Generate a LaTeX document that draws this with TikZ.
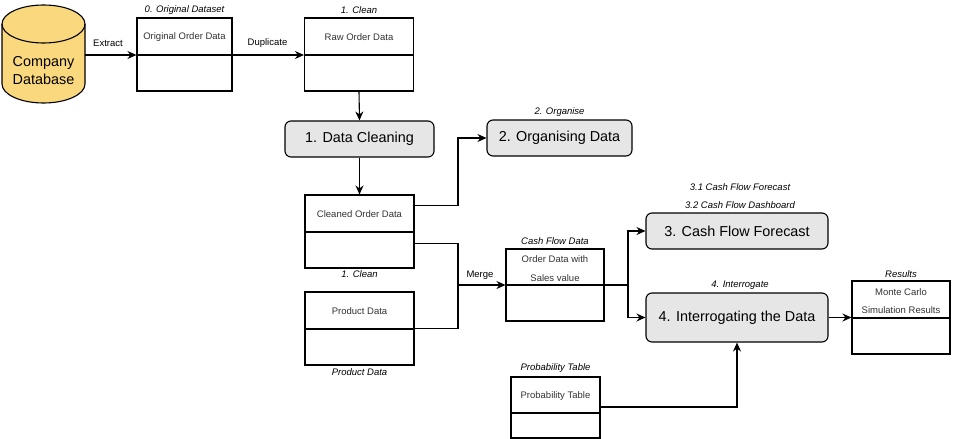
\documentclass[tikz,border=0pt]{standalone}
\usepackage{fontspec}
\setmainfont{Liberation Sans}
\usetikzlibrary{arrows.meta,calc}
\definecolor{dbfill}{HTML}{FAD87E}
\definecolor{procfill}{HTML}{E6E6E6}
\definecolor{txtgray}{HTML}{333333}
\tikzset{
  tbl/.style={draw=black,line width=1.1pt,fill=white,inner sep=0pt},
  proc/.style={draw=black,line width=1.1pt,fill=procfill,rounded corners=6pt,inner sep=0pt,font=\fontsize{14.4}{16}\selectfont},
  small/.style={font=\fontsize{9.5}{11}\selectfont,text=txtgray,inner sep=0pt},
  ital/.style={font=\fontsize{9.5}{11}\selectfont\itshape,inner sep=0pt},
  conn/.style={line width=1.1pt,-{Stealth[length=9pt,width=8pt]}},
  line/.style={line width=1.1pt},
}
\begin{document}
\begin{tikzpicture}[x=1pt,y=-1pt]
\useasboundingbox (0,0) rectangle (975,439);
% cylinder
\draw[line width=1.1pt,fill=dbfill] (2,24) -- (2,84) arc[start angle=180,end angle=0,x radius=41.5,y radius=19] -- (85,24) arc[start angle=0,end angle=-180,x radius=41.5,y radius=19] -- cycle;
\draw[line width=1.1pt] (2,24) arc[start angle=180,end angle=0,x radius=41.5,y radius=19];
\node[align=center,font=\fontsize{14.4}{18}\selectfont,inner sep=0pt] (db) at (43.5,71) {Company\\Database};
\coordinate (dbr) at (85,55);
% table boxes
\node[tbl,minimum width=95pt,minimum height=73pt] (orig) at (184.5,54.5) {};
\draw[line] (137,55) -- (232,55);
\node[small] (origt) at (184.5,37) {Original Order Data};
\node[ital] (origh) at (184.5,10.5) {0. Original Dataset};

\node[tbl,minimum width=109pt,minimum height=73pt] (raw) at (359,54.5) {};
\draw[line] (304.5,55) -- (413.5,55);
\node[small] (rawt) at (359,37) {Raw Order Data};
\node[ital] (rawh) at (359,10.5) {1. Clean};

\node[tbl,minimum width=109pt,minimum height=73pt] (cln) at (359.5,231.5) {};
\draw[line] (305,232) -- (414,232);
\node[small] (clnt) at (359.5,214) {Cleaned Order Data};
\node[ital] (clnh) at (359.5,274.5) {1. Clean};

\node[tbl,minimum width=109pt,minimum height=73pt] (prod) at (359.5,328.5) {};
\draw[line] (305,329) -- (414,329);
\node[small] (prodt) at (359.5,311) {Product Data};
\node[ital] (prodh) at (359.5,372) {Product Data};

\node[tbl,minimum width=98pt,minimum height=72pt] (cash) at (555,285) {};
\draw[line] (506,285) -- (604,285);
\node[small] (casht1) at (555,259) {Order Data with};
\node[small] (casht2) at (555,278) {Sales value};
\node[ital] (cashh) at (555,241) {Cash Flow Data};

\node[tbl,minimum width=89pt,minimum height=61pt] (prob) at (555.5,407.5) {};
\draw[line] (511,413) -- (600,413);
\node[small] (probt) at (555.5,396.5) {Probability Table};
\node[ital] (probh) at (555.5,368) {Probability Table};

\node[tbl,minimum width=98pt,minimum height=73pt] (res) at (901,317.5) {};
\draw[line] (852,318) -- (950,318);
\node[small] (rest1) at (901,292.5) {Monte Carlo};
\node[small] (rest2) at (901,310) {Simulation Results};
\node[ital] (resh) at (901,274) {Results};

% process boxes
\node[proc,minimum width=149pt,minimum height=36pt] (dc) at (359.5,139) {1. Data Cleaning};
\node[proc,minimum width=145pt,minimum height=36pt] (org) at (559.5,138) {2. Organising Data};
\node[ital] (orgh) at (559.5,112) {2. Organise};
\node[proc,minimum width=182pt,minimum height=36pt] (cff) at (737,231) {3. Cash Flow Forecast};
\node[ital] (cffh1) at (740,187) {3.1 Cash Flow Forecast};
\node[ital] (cffh2) at (740,205) {3.2 Cash Flow Dashboard};
\node[proc,minimum width=182pt,minimum height=49pt] (int) at (737,317.5) {4. Interrogating the Data};
\node[ital] (inth) at (740,285) {4. Interrogate};

% connectors
\draw[conn] (dbr) -- (orig.west |- dbr);
\node[small,text=black] (ext) at (108,43.5) {Extract};
\draw[conn] (orig.east |- dbr) -- (raw.west |- dbr);
\node[small,text=black] (dup) at (267.5,43.5) {Duplicate};
\draw[conn] (raw.south) -- (dc.north);
\draw[conn] (dc.south) -- (cln.north);
\draw[conn] ($(cln.north east)+(0,11)$) -| (458,138) -- (org.west);
\draw[line] ($(cln.north east)+(0,49)$) -| (458,285);
\draw[line] (prod.east) -| (458,285);
\draw[conn] (458,285) -- (cash.west);
\node[small,text=black] (mrg) at (480,275) {Merge};
\draw[line] (cash.east) -- (628,285);
\draw[conn] (628,285) |- (cff.west);
\draw[conn] (628,285) |- (int.west);
\draw[conn] (int.east) -- (res.west |- int.east);
\draw[conn] (prob.east |- 0,407) -| (int.south);
\end{tikzpicture}
\end{document}
